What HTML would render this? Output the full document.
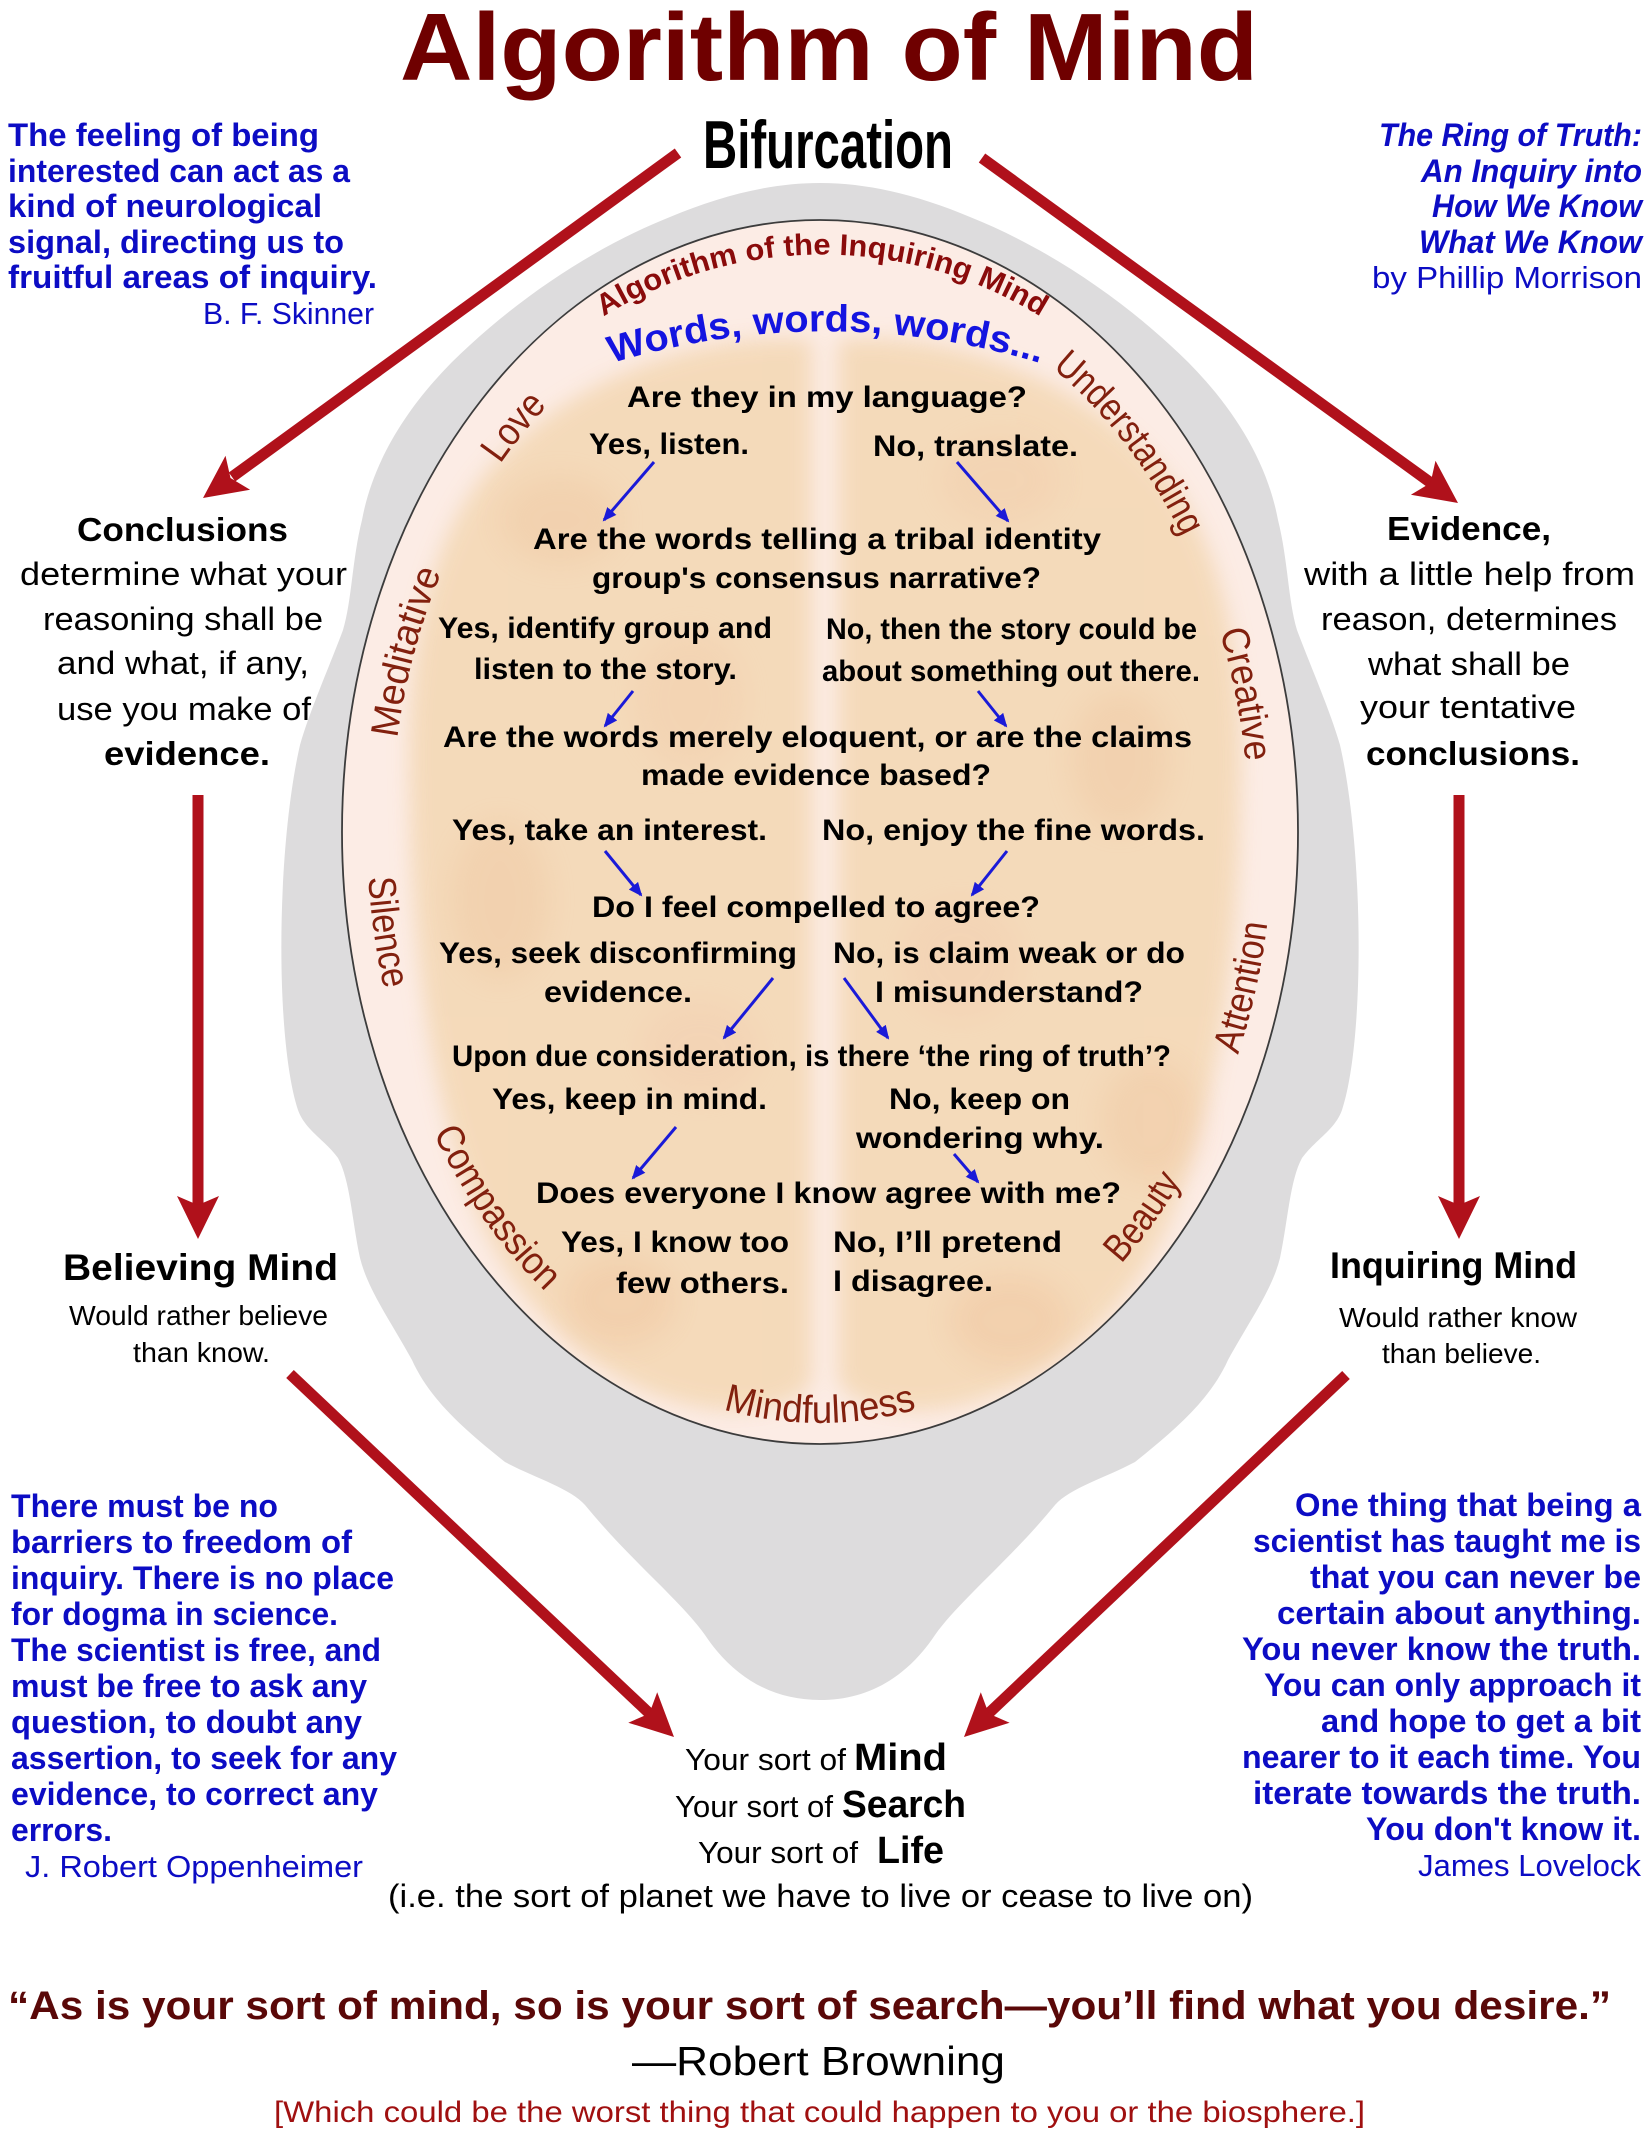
<!DOCTYPE html>
<html><head><meta charset="utf-8">
<style>
html,body{margin:0;padding:0;background:#fff;}
svg{display:block;}
text{font-family:"Liberation Sans",Arial,sans-serif;}
.b{font-weight:bold;}
.q{fill:#0c0cc4;font-weight:bold;font-size:32px;}
.qr{fill:#0c0cc4;font-size:31px;}
.lab{fill:#82200e;font-size:39px;}
.in{font-size:30px;font-weight:bold;fill:#000;}
.blk{fill:#000;}
</style></head><body>
<svg width="1651" height="2140" viewBox="0 0 1651 2140" xmlns="http://www.w3.org/2000/svg">
<defs>
  <filter id="blur" x="-20%" y="-20%" width="140%" height="140%"><feGaussianBlur stdDeviation="10"/></filter>
  <filter id="blur2" x="-50%" y="-50%" width="200%" height="200%"><feGaussianBlur stdDeviation="14"/></filter>
  <marker id="ah" viewBox="0 0 14 12" refX="12" refY="6" markerWidth="14" markerHeight="12" markerUnits="userSpaceOnUse" orient="auto">
    <path d="M0,0 L14,6 L0,12 z" fill="#1a1ad8"/>
  </marker>
  <clipPath id="ellclip"><ellipse cx="820" cy="832" rx="478" ry="612"/></clipPath>
  <path id="pAlg" d="M 595 322 A 416 416 0 0 1 1049 322" fill="none"/>
  <path id="pWords" d="M 576 375 A 738 738 0 0 1 1076 375" fill="none"/>
  <path id="pLove" d="M 423.4 621.6 A 429 552 0 0 1 690.3 305.8" fill="none"/>
  <path id="pUnd" d="M 961.8 311 A 429 552 0 0 1 1221.3 636.9" fill="none"/>
  <path id="pMed" d="M 393 884.9 A 429 552 0 0 1 514 445.1" fill="none"/>
  <path id="pCre" d="M 1149.6 478.7 A 429 552 0 0 1 1242.2 929.8" fill="none"/>
  <path id="pSil" d="M 381.4 687.3 A 453 578 0 0 0 451.2 1167.6" fill="none"/>
  <path id="pAtt" d="M 1159.8 1214.2 A 453 578 0 0 0 1267.9 745.6" fill="none"/>
  <path id="pCom" d="M 389.2 1010.6 A 453 578 0 0 0 650.3 1367.9" fill="none"/>
  <path id="pMind" d="M 628.6 1367.7 A 453 590 0 0 0 1011.4 1367.7" fill="none"/>
  <path id="pBea" d="M 983.1 1371.3 A 453 578 0 0 0 1248.6 1019.2" fill="none"/>
</defs>

<!-- Head silhouette -->
<path fill="#dddcdd" d="M 820,183
 C 870,183 920,196 970,217
 C 1040,245 1110,290 1170,345
 C 1220,390 1265,450 1278,520
 C 1288,560 1288,600 1297,630
 C 1310,665 1330,710 1340,745
 C 1364,850 1365,1040 1342,1110
 C 1335,1130 1315,1140 1302,1158
 C 1290,1180 1288,1220 1280,1258
 C 1272,1290 1250,1320 1228,1360
 C 1210,1400 1175,1430 1135,1462
 C 1105,1478 1070,1488 1055,1505
 C 1010,1560 960,1600 935,1635
 C 905,1680 865,1700 820,1700
 C 775,1700 735,1680 705,1635
 C 680,1600 630,1560 585,1505
 C 570,1488 535,1478 505,1462
 C 465,1430 430,1400 412,1360
 C 390,1320 368,1290 360,1258
 C 352,1220 350,1180 338,1158
 C 325,1140 305,1130 298,1110
 C 275,1040 276,850 300,745
 C 310,710 330,665 343,630
 C 352,600 352,560 362,520
 C 375,450 420,390 470,345
 C 530,290 600,245 670,217
 C 720,196 770,183 820,183 Z"/>

<!-- Brain oval -->
<ellipse cx="820" cy="832" rx="478" ry="612" fill="#fcece5"/>
<g clip-path="url(#ellclip)">
  <g filter="url(#blur)" opacity="0.8">
    <path fill="#f3d6b0" d="M 812,340 C 700,330 560,380 480,480 C 420,560 405,680 410,800 C 412,950 430,1100 480,1220 C 530,1330 620,1400 720,1410 C 770,1412 805,1400 812,1380 Z"/>
    <path fill="#f3d6b0" d="M 838,340 C 950,330 1090,380 1170,480 C 1230,560 1245,680 1240,800 C 1238,950 1220,1100 1170,1220 C 1120,1330 1030,1400 930,1410 C 880,1412 845,1400 838,1380 Z"/>
  </g>
  <g filter="url(#blur2)" opacity="0.16">
    <ellipse cx="560" cy="520" rx="60" ry="45" fill="#e9a97a"/>
    <ellipse cx="690" cy="700" rx="55" ry="70" fill="#efb894"/>
    <ellipse cx="500" cy="900" rx="50" ry="80" fill="#e9a97a"/>
    <ellipse cx="700" cy="1050" rx="60" ry="50" fill="#f0b8a0"/>
    <ellipse cx="620" cy="1300" rx="55" ry="45" fill="#e8a070"/>
    <ellipse cx="1000" cy="480" rx="60" ry="45" fill="#efb894"/>
    <ellipse cx="1120" cy="760" rx="50" ry="70" fill="#e9a97a"/>
    <ellipse cx="960" cy="960" rx="60" ry="60" fill="#f0b8a0"/>
    <ellipse cx="1150" cy="1120" rx="50" ry="60" fill="#e9a97a"/>
    <ellipse cx="1010" cy="1320" rx="60" ry="45" fill="#e8a070"/>
  </g>
</g>
<ellipse cx="820" cy="832" rx="478" ry="612" fill="none" stroke="#3c3c3c" stroke-width="1.8"/>

<!-- Ring labels -->
<text class="b" style="font-size:30px;fill:#8a0b0b;" text-anchor="middle"><textPath href="#pAlg" startOffset="50%" textLength="460" lengthAdjust="spacingAndGlyphs">Algorithm of the Inquiring Mind</textPath></text>
<text class="b" style="font-size:38px;fill:#1414e0;" text-anchor="middle"><textPath href="#pWords" startOffset="50%" textLength="435" lengthAdjust="spacingAndGlyphs">Words, words, words...</textPath></text>
<text class="lab" text-anchor="middle"><textPath href="#pLove" startOffset="50%" textLength="75" lengthAdjust="spacingAndGlyphs">Love</textPath></text>
<text class="lab" text-anchor="middle"><textPath href="#pUnd" startOffset="50%" textLength="215" lengthAdjust="spacingAndGlyphs">Understanding</textPath></text>
<text class="lab" text-anchor="middle"><textPath href="#pMed" startOffset="50%" textLength="172" lengthAdjust="spacingAndGlyphs">Meditative</textPath></text>
<text class="lab" text-anchor="middle"><textPath href="#pCre" startOffset="50%" textLength="133" lengthAdjust="spacingAndGlyphs">Creative</textPath></text>
<text class="lab" text-anchor="middle"><textPath href="#pSil" startOffset="50%" textLength="113" lengthAdjust="spacingAndGlyphs">Silence</textPath></text>
<text class="lab" text-anchor="middle"><textPath href="#pAtt" startOffset="50%" textLength="135" lengthAdjust="spacingAndGlyphs">Attention</textPath></text>
<text class="lab" text-anchor="middle"><textPath href="#pCom" startOffset="50%" textLength="195" lengthAdjust="spacingAndGlyphs">Compassion</textPath></text>
<text class="lab" text-anchor="middle"><textPath href="#pMind" startOffset="50%" textLength="196" lengthAdjust="spacingAndGlyphs">Mindfulness</textPath></text>
<text class="lab" text-anchor="middle"><textPath href="#pBea" startOffset="50%" textLength="102" lengthAdjust="spacingAndGlyphs">Beauty</textPath></text>

<!-- Inner flowchart text -->
<g class="in">
<text class="in" x="627" y="407" textLength="400" lengthAdjust="spacingAndGlyphs">Are they in my language?</text>
<text class="in" x="589" y="454" textLength="160" lengthAdjust="spacingAndGlyphs">Yes, listen.</text>
<text class="in" x="873" y="456" textLength="205" lengthAdjust="spacingAndGlyphs">No, translate.</text>
<text class="in" x="533" y="549" textLength="568" lengthAdjust="spacingAndGlyphs">Are the words telling a tribal identity</text>
<text class="in" x="592" y="588" textLength="449" lengthAdjust="spacingAndGlyphs">group's consensus narrative?</text>
<text class="in" x="438" y="638" textLength="334" lengthAdjust="spacingAndGlyphs">Yes, identify group and</text>
<text class="in" x="474" y="679" textLength="263" lengthAdjust="spacingAndGlyphs">listen to the story.</text>
<text class="in" x="826" y="639" textLength="371" lengthAdjust="spacingAndGlyphs">No, then the story could be</text>
<text class="in" x="822" y="681" textLength="378" lengthAdjust="spacingAndGlyphs">about something out there.</text>
<text class="in" x="443" y="747" textLength="749" lengthAdjust="spacingAndGlyphs">Are the words merely eloquent, or are the claims</text>
<text class="in" x="641" y="785" textLength="350" lengthAdjust="spacingAndGlyphs">made evidence based?</text>
<text class="in" x="452" y="840" textLength="315" lengthAdjust="spacingAndGlyphs">Yes, take an interest.</text>
<text class="in" x="822" y="840" textLength="383" lengthAdjust="spacingAndGlyphs">No, enjoy the fine words.</text>
<text class="in" x="592" y="917" textLength="448" lengthAdjust="spacingAndGlyphs">Do I feel compelled to agree?</text>
<text class="in" x="439" y="963" textLength="358" lengthAdjust="spacingAndGlyphs">Yes, seek disconfirming</text>
<text class="in" x="544" y="1002" textLength="148" lengthAdjust="spacingAndGlyphs">evidence.</text>
<text class="in" x="833" y="963" textLength="352" lengthAdjust="spacingAndGlyphs">No, is claim weak or do</text>
<text class="in" x="875" y="1002" textLength="268" lengthAdjust="spacingAndGlyphs">I misunderstand?</text>
<text class="in" x="452" y="1066" textLength="719" lengthAdjust="spacingAndGlyphs">Upon due consideration, is there ‘the ring of truth’?</text>
<text class="in" x="492" y="1109" textLength="275" lengthAdjust="spacingAndGlyphs">Yes, keep in mind.</text>
<text class="in" x="889" y="1109" textLength="181" lengthAdjust="spacingAndGlyphs">No, keep on</text>
<text class="in" x="856" y="1148" textLength="248" lengthAdjust="spacingAndGlyphs">wondering why.</text>
<text class="in" x="536" y="1203" textLength="585" lengthAdjust="spacingAndGlyphs">Does everyone I know agree with me?</text>
<text class="in" x="561" y="1252" textLength="228" lengthAdjust="spacingAndGlyphs">Yes, I know too</text>
<text class="in" x="616" y="1293" textLength="173" lengthAdjust="spacingAndGlyphs">few others.</text>
<text class="in" x="833" y="1252" textLength="229" lengthAdjust="spacingAndGlyphs">No, I’ll pretend</text>
<text class="in" x="833" y="1291" textLength="160" lengthAdjust="spacingAndGlyphs">I disagree.</text>
</g>

<!-- Blue arrows -->
<g stroke="#1a1ad8" stroke-width="3" fill="none" marker-end="url(#ah)">
<line x1="654" y1="462" x2="604" y2="520"/>
<line x1="957" y1="462" x2="1008" y2="521"/>
<line x1="633" y1="691" x2="605" y2="726"/>
<line x1="978" y1="691" x2="1006" y2="726"/>
<line x1="605" y1="851" x2="641" y2="895"/>
<line x1="1007" y1="851" x2="972" y2="895"/>
<line x1="773" y1="978" x2="724" y2="1038"/>
<line x1="844" y1="978" x2="888" y2="1038"/>
<line x1="676" y1="1127" x2="633" y2="1178"/>
<line x1="954" y1="1154" x2="978" y2="1182"/>
</g>

<!-- Title -->
<text class="b" x="400" y="80" style="font-size:96px;fill:#6f0000;" textLength="858" lengthAdjust="spacingAndGlyphs">Algorithm of Mind</text>
<text class="b blk" x="703" y="168" style="font-size:68px;" textLength="250" lengthAdjust="spacingAndGlyphs">Bifurcation</text>

<!-- Top-left quote -->
<text class="q" x="8" y="146" textLength="311" lengthAdjust="spacingAndGlyphs">The feeling of being</text>
<text class="q" x="8" y="182" textLength="342" lengthAdjust="spacingAndGlyphs">interested can act as a</text>
<text class="q" x="8" y="217" textLength="314" lengthAdjust="spacingAndGlyphs">kind of neurological</text>
<text class="q" x="8" y="253" textLength="336" lengthAdjust="spacingAndGlyphs">signal, directing us to</text>
<text class="q" x="8" y="288" textLength="369" lengthAdjust="spacingAndGlyphs">fruitful areas of inquiry.</text>
<text class="qr" x="203" y="324" textLength="171" lengthAdjust="spacingAndGlyphs">B. F. Skinner</text>

<!-- Top-right quote -->
<text class="q" x="1379" y="146" style="font-style:italic;" textLength="263" lengthAdjust="spacingAndGlyphs">The Ring of Truth:</text>
<text class="q" x="1421" y="182" style="font-style:italic;" textLength="221" lengthAdjust="spacingAndGlyphs">An Inquiry into</text>
<text class="q" x="1432" y="217" style="font-style:italic;" textLength="210" lengthAdjust="spacingAndGlyphs">How We Know</text>
<text class="q" x="1419" y="253" style="font-style:italic;" textLength="223" lengthAdjust="spacingAndGlyphs">What We Know</text>
<text class="qr" x="1372" y="288" textLength="270" lengthAdjust="spacingAndGlyphs">by Phillip Morrison</text>

<!-- Conclusions block -->
<text class="b blk" x="77" y="541" style="font-size:33px;" textLength="211" lengthAdjust="spacingAndGlyphs">Conclusions</text>
<g class="blk" style="font-size:32px;">
<text x="20" y="585" textLength="327" lengthAdjust="spacingAndGlyphs">determine what your</text>
<text x="43" y="630" textLength="280" lengthAdjust="spacingAndGlyphs">reasoning shall be</text>
<text x="57" y="674" textLength="252" lengthAdjust="spacingAndGlyphs">and what, if any,</text>
<text x="57" y="720" textLength="254" lengthAdjust="spacingAndGlyphs">use you make of</text>
</g>
<text class="b blk" x="104" y="765" style="font-size:33px;" textLength="166" lengthAdjust="spacingAndGlyphs">evidence.</text>

<!-- Evidence block -->
<text class="b blk" x="1387" y="540" style="font-size:33px;" textLength="164" lengthAdjust="spacingAndGlyphs">Evidence,</text>
<g class="blk" style="font-size:32px;">
<text x="1304" y="585" textLength="331" lengthAdjust="spacingAndGlyphs">with a little help from</text>
<text x="1321" y="630" textLength="296" lengthAdjust="spacingAndGlyphs">reason, determines</text>
<text x="1368" y="675" textLength="202" lengthAdjust="spacingAndGlyphs">what shall be</text>
<text x="1360" y="718" textLength="216" lengthAdjust="spacingAndGlyphs">your tentative</text>
</g>
<text class="b blk" x="1366" y="765" style="font-size:33px;" textLength="214" lengthAdjust="spacingAndGlyphs">conclusions.</text>

<!-- Believing / Inquiring -->
<text class="b blk" x="63" y="1280" style="font-size:37px;" textLength="275" lengthAdjust="spacingAndGlyphs">Believing Mind</text>
<text class="blk" x="69" y="1325" style="font-size:28px;" textLength="259" lengthAdjust="spacingAndGlyphs">Would rather believe</text>
<text class="blk" x="133" y="1362" style="font-size:28px;" textLength="137" lengthAdjust="spacingAndGlyphs">than know.</text>
<text class="b blk" x="1330" y="1278" style="font-size:37px;" textLength="247" lengthAdjust="spacingAndGlyphs">Inquiring Mind</text>
<text class="blk" x="1339" y="1327" style="font-size:28px;" textLength="238" lengthAdjust="spacingAndGlyphs">Would rather know</text>
<text class="blk" x="1382" y="1363" style="font-size:28px;" textLength="159" lengthAdjust="spacingAndGlyphs">than believe.</text>

<!-- Bottom-left quote -->
<text class="q" x="11" y="1517" textLength="267" lengthAdjust="spacingAndGlyphs">There must be no</text>
<text class="q" x="11" y="1553" textLength="341" lengthAdjust="spacingAndGlyphs">barriers to freedom of</text>
<text class="q" x="11" y="1589" textLength="383" lengthAdjust="spacingAndGlyphs">inquiry. There is no place</text>
<text class="q" x="11" y="1625" textLength="327" lengthAdjust="spacingAndGlyphs">for dogma in science.</text>
<text class="q" x="11" y="1661" textLength="370" lengthAdjust="spacingAndGlyphs">The scientist is free, and</text>
<text class="q" x="11" y="1697" textLength="356" lengthAdjust="spacingAndGlyphs">must be free to ask any</text>
<text class="q" x="11" y="1733" textLength="351" lengthAdjust="spacingAndGlyphs">question, to doubt any</text>
<text class="q" x="11" y="1769" textLength="386" lengthAdjust="spacingAndGlyphs">assertion, to seek for any</text>
<text class="q" x="11" y="1805" textLength="367" lengthAdjust="spacingAndGlyphs">evidence, to correct any</text>
<text class="q" x="11" y="1841" textLength="101" lengthAdjust="spacingAndGlyphs">errors.</text>
<text class="qr" x="25" y="1877" textLength="338" lengthAdjust="spacingAndGlyphs">J. Robert Oppenheimer</text>

<!-- Bottom-right quote -->
<text class="q" x="1295" y="1516" textLength="346" lengthAdjust="spacingAndGlyphs">One thing that being a</text>
<text class="q" x="1253" y="1552" textLength="388" lengthAdjust="spacingAndGlyphs">scientist has taught me is</text>
<text class="q" x="1310" y="1588" textLength="331" lengthAdjust="spacingAndGlyphs">that you can never be</text>
<text class="q" x="1277" y="1624" textLength="364" lengthAdjust="spacingAndGlyphs">certain about anything.</text>
<text class="q" x="1242" y="1660" textLength="399" lengthAdjust="spacingAndGlyphs">You never know the truth.</text>
<text class="q" x="1264" y="1696" textLength="377" lengthAdjust="spacingAndGlyphs">You can only approach it</text>
<text class="q" x="1321" y="1732" textLength="320" lengthAdjust="spacingAndGlyphs">and hope to get a bit</text>
<text class="q" x="1242" y="1768" textLength="399" lengthAdjust="spacingAndGlyphs">nearer to it each time. You</text>
<text class="q" x="1253" y="1804" textLength="388" lengthAdjust="spacingAndGlyphs">iterate towards the truth.</text>
<text class="q" x="1366" y="1840" textLength="275" lengthAdjust="spacingAndGlyphs">You don't know it.</text>
<text class="qr" x="1418" y="1876" textLength="223" lengthAdjust="spacingAndGlyphs">James Lovelock</text>

<!-- Bottom center -->
<text class="blk" x="685" y="1770" style="font-size:31px;" textLength="161" lengthAdjust="spacingAndGlyphs">Your sort of</text>
<text class="b blk" x="854" y="1770" style="font-size:38px;" textLength="93" lengthAdjust="spacingAndGlyphs">Mind</text>
<text class="blk" x="675" y="1817" style="font-size:31px;" textLength="158" lengthAdjust="spacingAndGlyphs">Your sort of</text>
<text class="b blk" x="842" y="1817" style="font-size:38px;" textLength="124" lengthAdjust="spacingAndGlyphs">Search</text>
<text class="blk" x="698" y="1863" style="font-size:31px;" textLength="160" lengthAdjust="spacingAndGlyphs">Your sort of</text>
<text class="b blk" x="877" y="1863" style="font-size:38px;" textLength="67" lengthAdjust="spacingAndGlyphs">Life</text>
<text class="blk" x="388" y="1907" style="font-size:32px;" textLength="865" lengthAdjust="spacingAndGlyphs">(i.e. the sort of planet we have to live or cease to live on)</text>

<!-- Bottom quote -->
<text class="b" x="8" y="2019" style="font-size:40px;fill:#5a0808;" textLength="1603" lengthAdjust="spacingAndGlyphs">“As is your sort of mind, so is your sort of search—you’ll find what you desire.”</text>
<text class="blk" x="632" y="2075" style="font-size:41px;" textLength="373" lengthAdjust="spacingAndGlyphs">—Robert Browning</text>
<text x="274" y="2122" style="font-size:30px;fill:#a01010;" textLength="1091" lengthAdjust="spacingAndGlyphs">[Which could be the worst thing that could happen to you or the biosphere.]</text>

<!-- Red arrows -->
<g stroke="#b0111b" stroke-width="11" fill="none">
<line x1="678" y1="153" x2="232" y2="477"/>
<line x1="982" y1="158" x2="1431" y2="483"/>
<line x1="198" y1="795" x2="198" y2="1206"/>
<line x1="1459" y1="795" x2="1459" y2="1206"/>
<line x1="290" y1="1374" x2="650" y2="1714"/>
<line x1="1346" y1="1375" x2="988" y2="1714"/>
</g>
<g fill="#b0111b">
<polygon points="203,498 225.5,455.7 230.5,478 250.1,489.7"/>
<polygon points="1458,503 1410.9,494.8 1430.5,483 1435.5,460.8"/>
<polygon points="198,1239 177,1196 198,1205 219,1196"/>
<polygon points="1459,1239 1438,1196 1459,1205 1480,1196"/>
<polygon points="674,1737 628.3,1722.7 649.3,1713.6 657.2,1692.2"/>
<polygon points="964,1737 980.8,1692.2 988.7,1713.6 1009.6,1722.7"/>
</g>
</svg>
</body></html>
